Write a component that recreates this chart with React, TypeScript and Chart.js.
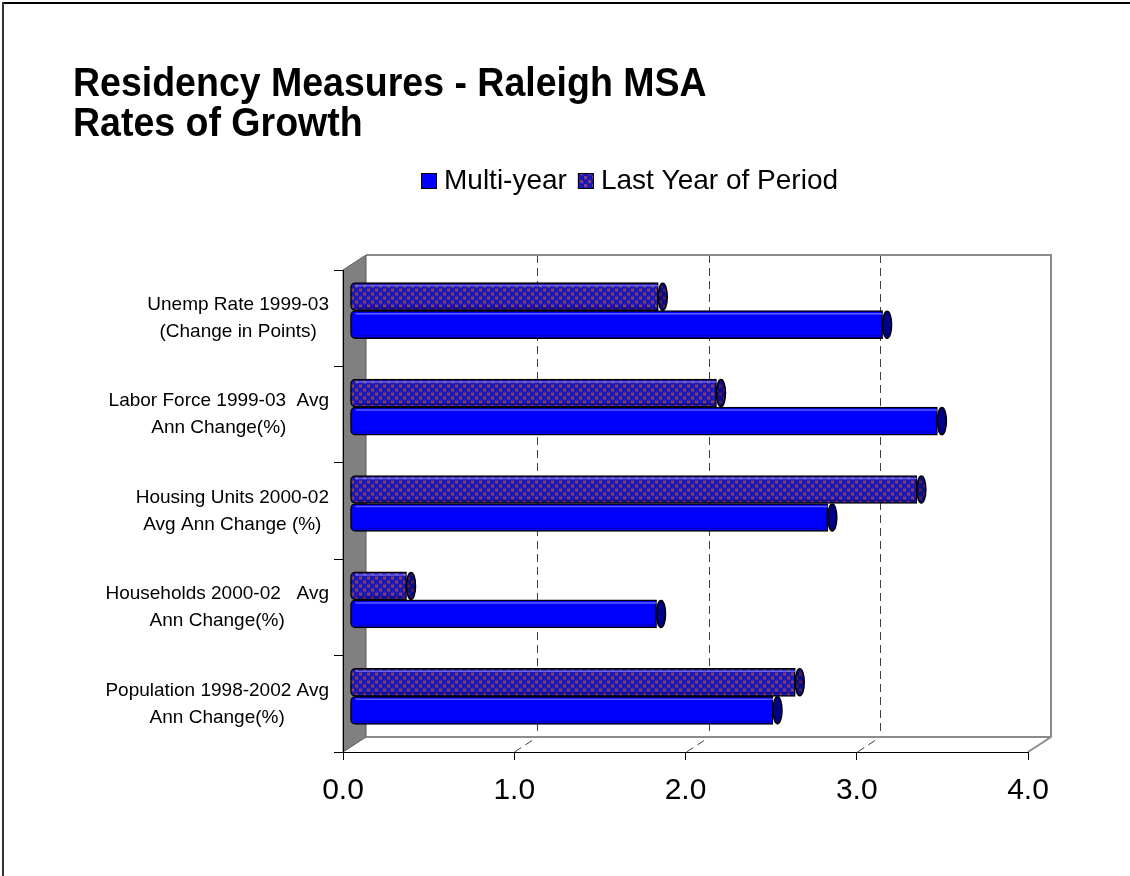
import React, { useEffect, useRef } from 'react';
import { Chart, registerables } from 'chart.js';

Chart.register(...registerables);

// ---- data ----
const categories: string[][] = [
  ['Unemp Rate 1999-03', '(Change in Points)'],
  ['Labor Force 1999-03  Avg', 'Ann Change(%)'],
  ['Housing Units 2000-02', 'Avg Ann Change (%)'],
  ['Households 2000-02   Avg', 'Ann Change(%)'],
  ['Population 1998-2002 Avg', 'Ann Change(%)'],
];
const multiYear = [3.11, 3.43, 2.79, 1.79, 2.47];
const lastYear = [1.8, 2.14, 3.31, 0.33, 2.6];
const xTickLabels = ['0.0', '1.0', '2.0', '3.0', '4.0'];
const seriesNames = ['Multi-year', 'Last Year of Period'];
const titleLines = ['Residency Measures - Raleigh MSA', 'Rates of Growth'];

// ---- layout / style ----
const W = 1130;
const H = 876;
const PLOT_LEFT = 343;
const PLOT_RIGHT = 1028;
const PLOT_TOP = 270;
const PLOT_BOTTOM = 752;
const WALL_DX = 23; // depth of the 3-D box
const WALL_DY = -15;
const BAR_DX = 7; // bars sit a little behind the front plane
const BAR_DY = -7.5;
const FONT = '"Liberation Sans", Arial, Helvetica, sans-serif';
const BLUE = '#0000FF';

function makePattern(ctx: CanvasRenderingContext2D): CanvasPattern | string {
  const c = document.createElement('canvas');
  c.width = 8;
  c.height = 8;
  const g = c.getContext('2d');
  if (!g) return '#3a2aa8';
  g.fillStyle = '#1e1ed8';
  g.fillRect(0, 0, 8, 8);
  g.fillStyle = '#8e3c6c';
  g.fillRect(0, 0, 3, 3);
  g.fillRect(4, 4, 3, 3);
  g.strokeStyle = '#14148c';
  g.lineWidth = 1;
  g.beginPath();
  g.arc(6, 2, 1.8, 0, Math.PI * 2);
  g.stroke();
  g.beginPath();
  g.arc(2, 6, 1.8, 0, Math.PI * 2);
  g.stroke();
  return ctx.createPattern(c, 'repeat') || '#3a2aa8';
}

function line(ctx: CanvasRenderingContext2D, x1: number, y1: number, x2: number, y2: number) {
  ctx.beginPath();
  ctx.moveTo(x1, y1);
  ctx.lineTo(x2, y2);
  ctx.stroke();
}

// text drawn slightly taller than the regular face
function tallText(ctx: CanvasRenderingContext2D, text: string, x: number, baseline: number, sy: number) {
  ctx.save();
  ctx.translate(x, baseline);
  ctx.scale(1, sy);
  ctx.fillText(text, 0, 0);
  ctx.restore();
}

export default function App() {
  const canvasRef = useRef<HTMLCanvasElement | null>(null);

  useEffect(() => {
    const canvas = canvasRef.current;
    if (!canvas) return;
    const ctx0 = canvas.getContext('2d');
    if (!ctx0) return;
    const pattern = makePattern(ctx0);
    const fills = [BLUE, pattern];

    const box3d = {
      id: 'box3d',
      beforeDraw(chart: any) {
        const { ctx, chartArea: a, scales } = chart;
        const x = scales.x;
        ctx.save();
        ctx.fillStyle = '#fff';
        ctx.fillRect(0, 0, W, H);

        // outer frame (top and left edges)
        ctx.fillStyle = '#000';
        ctx.fillRect(2, 2, W - 2, 2);
        ctx.fillStyle = '#333';
        ctx.fillRect(2, 2, 2, H - 2);

        // title
        ctx.fillStyle = '#000';
        ctx.font = `bold 37.5px ${FONT}`;
        ctx.textAlign = 'left';
        ctx.textBaseline = 'alphabetic';
        tallText(ctx, titleLines[0], 73, 96, 1.1);
        tallText(ctx, titleLines[1], 73, 136, 1.1);

        const bl = a.left + WALL_DX;
        const bt = a.top + WALL_DY;
        const br = a.right + WALL_DX;
        const bb = a.bottom + WALL_DY;

        // dashed gridlines on back wall and floor
        ctx.strokeStyle = '#404040';
        ctx.lineWidth = 1;
        ctx.setLineDash([8, 5]);
        for (let v = 1; v < xTickLabels.length - 1; v++) {
          const fx = Math.round(x.getPixelForValue(v)) + 0.5;
          line(ctx, fx + WALL_DX, bt, fx + WALL_DX, bb);
          line(ctx, fx, a.bottom, fx + WALL_DX, bb);
        }
        ctx.setLineDash([]);

        // back wall & floor outline
        ctx.strokeStyle = '#8c8c8c';
        ctx.lineWidth = 2;
        ctx.beginPath();
        ctx.moveTo(bl, bt);
        ctx.lineTo(br, bt);
        ctx.lineTo(br, bb);
        ctx.lineTo(a.right, a.bottom);
        ctx.stroke();
        line(ctx, bl, bb, br, bb);

        // grey side wall
        ctx.fillStyle = '#808080';
        ctx.beginPath();
        ctx.moveTo(a.left, a.top);
        ctx.lineTo(bl, bt);
        ctx.lineTo(bl, bb);
        ctx.lineTo(a.left, a.bottom);
        ctx.closePath();
        ctx.fill();
        ctx.strokeStyle = '#5a5a5a';
        ctx.lineWidth = 1;
        ctx.stroke();
        ctx.restore();
      },
      beforeDatasetsDraw(chart: any) {
        chart.ctx.save();
        chart.ctx.translate(BAR_DX, BAR_DY);
      },
      afterDatasetsDraw(chart: any) {
        const { ctx } = chart;
        chart.data.datasets.forEach((ds: any, di: number) => {
          const meta = chart.getDatasetMeta(di);
          meta.data.forEach((el: any) => {
            const h = el.height;
            const top = el.y - h / 2;
            const bot = el.y + h / 2;
            // highlight near the top of the tube
            ctx.strokeStyle = di === 1 ? '#5c5cff' : 'rgba(120,120,255,0.75)';
            ctx.lineWidth = 1.5;
            line(ctx, el.base + 5, top + 3, el.x, top + 3);
            ctx.strokeStyle = di === 1 ? '#0000c8' : 'rgba(0,0,90,0.5)';
            line(ctx, el.base + 5, bot - 3, el.x, bot - 3);
            // end cap
            ctx.beginPath();
            ctx.ellipse(el.x + 4.5, el.y, 4.5, h / 2 - 0.5, 0, 0, Math.PI * 2);
            ctx.fillStyle = ds.backgroundColor;
            ctx.fill();
            ctx.fillStyle = di === 1 ? 'rgba(0,0,96,0.75)' : 'rgba(0,0,70,0.45)';
            ctx.fill();
            ctx.strokeStyle = '#000';
            ctx.lineWidth = 1.5;
            ctx.stroke();
          });
        });
        ctx.restore();
      },
      afterDraw(chart: any) {
        const { ctx, scales, chartArea: a } = chart;
        const y = scales.y;
        ctx.save();
        // category labels: block right-aligned, lines centred
        ctx.fillStyle = '#000';
        ctx.font = `19px ${FONT}`;
        ctx.textAlign = 'center';
        ctx.textBaseline = 'middle';
        const rightEdge = a.left - 14;
        categories.forEach((lines, i) => {
          const yc = y.getPixelForValue(i);
          const wMax = Math.max(...lines.map((l) => ctx.measureText(l).width));
          const cx = rightEdge - wMax / 2;
          lines.forEach((l, j) => {
            ctx.fillText(l, cx, yc + (j - (lines.length - 1) / 2) * 27);
          });
        });

        // legend
        ctx.font = `28px ${FONT}`;
        ctx.textAlign = 'left';
        const ly = 181;
        let lx = 421;
        seriesNames.forEach((name, i) => {
          ctx.fillStyle = fills[i] as any;
          ctx.fillRect(lx, ly - 8, 16, 16);
          ctx.strokeStyle = '#000';
          ctx.lineWidth = 1;
          ctx.strokeRect(lx + 0.5, ly - 7.5, 15, 15);
          lx += 16 + 7;
          ctx.fillStyle = '#000';
          ctx.fillText(name, lx, ly);
          lx += ctx.measureText(name).width + 11;
        });
        ctx.restore();
      },
    };

    const barCommon = {
      borderColor: '#000',
      borderWidth: 1.5,
      borderSkipped: false,
      borderRadius: { topLeft: 5, bottomLeft: 5, topRight: 0, bottomRight: 0 },
      barThickness: 28,
    };

    const chart = new Chart(canvas, {
      type: 'bar',
      data: {
        labels: categories,
        datasets: [
          { label: seriesNames[1], data: lastYear, backgroundColor: pattern, ...barCommon },
          { label: seriesNames[0], data: multiYear, backgroundColor: BLUE, ...barCommon },
        ],
      } as any,
      options: {
        indexAxis: 'y',
        responsive: false,
        maintainAspectRatio: false,
        animation: false,
        devicePixelRatio: 1,
        layout: { padding: { top: PLOT_TOP, left: 0, right: W - PLOT_RIGHT, bottom: 0 } },
        plugins: {
          legend: { display: false },
          title: { display: false },
          tooltip: { enabled: false },
        },
        scales: {
          x: {
            type: 'linear',
            position: 'bottom',
            min: 0,
            max: 4,
            afterFit: (s: any) => {
              s.height = H - PLOT_BOTTOM;
            },
            ticks: {
              stepSize: 1,
              autoSkip: false,
              maxRotation: 0,
              color: '#000',
              padding: 13,
              font: { family: FONT, size: 30 },
              callback: (v: any, i: number) => xTickLabels[i] ?? String(v),
            },
            grid: { drawOnChartArea: false, drawTicks: true, tickLength: 8, color: '#000', lineWidth: 1 },
            border: { display: true, color: '#000', width: 1 },
          },
          y: {
            type: 'category',
            position: 'left',
            offset: true,
            afterFit: (s: any) => {
              s.width = PLOT_LEFT;
            },
            ticks: { display: false },
            grid: { drawOnChartArea: false, drawTicks: true, tickLength: 9, color: '#000', offset: true },
            border: { display: true, color: '#000', width: 1 },
          },
        },
      } as any,
      plugins: [box3d],
    });

    return () => chart.destroy();
  }, []);

  return (
    <div style={{ position: 'absolute', left: 0, top: 0, width: W, height: H, background: '#fff' }}>
      <canvas ref={canvasRef} width={W} height={H} style={{ display: 'block' }} />
    </div>
  );
}
